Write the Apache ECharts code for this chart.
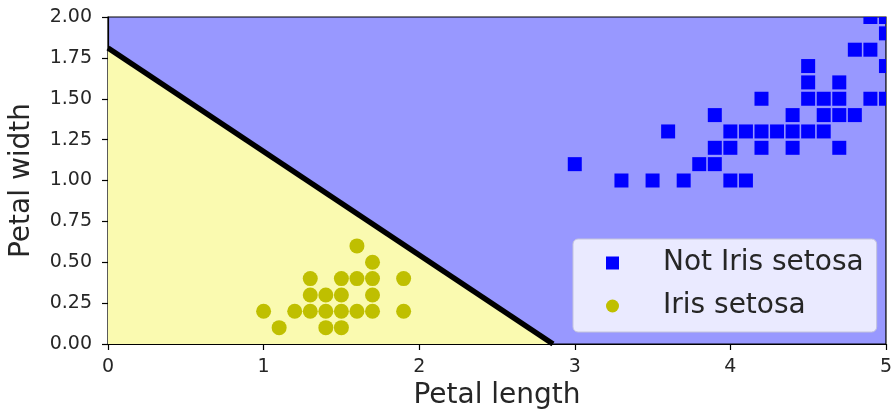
<!DOCTYPE html>
<html>
<head>
<meta charset="utf-8">
<script src="https://cdn.jsdelivr.net/npm/echarts@6/dist/echarts.min.js"></script>
<style>
  html, body { margin: 0; padding: 0; background: #fff; }
  #main { width: 895px; height: 415px; }
</style>
</head>
<body>
<div id="main"></div>
<script>
// petal length / petal width
var notSetosa = [
    [3.0, 1.1], [3.3, 1.0], [3.5, 1.0], [3.7, 1.0], [3.6, 1.3],
    [3.8, 1.1], [3.9, 1.1], [3.9, 1.2], [3.9, 1.4], [4.0, 1.0],
    [4.1, 1.0], [4.0, 1.2], [4.0, 1.3], [4.1, 1.3], [4.2, 1.3],
    [4.3, 1.3], [4.2, 1.2], [4.2, 1.5], [4.4, 1.3], [4.4, 1.2],
    [4.4, 1.4], [4.5, 1.3], [4.5, 1.5], [4.5, 1.6], [4.5, 1.7],
    [4.6, 1.3], [4.6, 1.4], [4.6, 1.5], [4.7, 1.4], [4.7, 1.5],
    [4.7, 1.6], [4.7, 1.2], [4.8, 1.4], [4.8, 1.8], [4.9, 1.8],
    [4.9, 1.5], [5.0, 1.5], [5.0, 1.7], [5.0, 1.9], [4.9, 2.0],
    [5.0, 2.0]
];
var setosa = [
    [1.0, 0.2], [1.1, 0.1], [1.2, 0.2], [1.3, 0.2], [1.3, 0.3],
    [1.3, 0.4], [1.4, 0.2], [1.4, 0.3], [1.4, 0.1], [1.5, 0.2],
    [1.5, 0.3], [1.5, 0.4], [1.5, 0.1], [1.6, 0.2], [1.6, 0.4],
    [1.6, 0.6], [1.7, 0.2], [1.7, 0.3], [1.7, 0.4], [1.7, 0.5],
    [1.9, 0.2], [1.9, 0.4]
];
// decision boundary end points
var boundary = [[0, 1.81], [2.86, 0]];

var FONT = 'DejaVu Sans';
var TXT = '#262626';

var chart = echarts.init(document.getElementById('main'));

var option = {
    backgroundColor: '#fff',
    animation: false,
    grid: {
        left: 108,
        right: 5,
        top: 17,
        bottom: 70,
        show: true,
        backgroundColor: '#9898ff',
        borderColor: '#000',
        borderWidth: 1.2
    },
    legend: {
        orient: 'vertical',
        left: 573,
        top: 239,
        padding: [9, 13, 11, 33],
        itemGap: 13,
        itemWidth: 13,
        itemHeight: 13,
        selectedMode: false,
        backgroundColor: '#eaeaff',
        borderColor: '#c4c4dc',
        borderWidth: 1,
        borderRadius: 5,
        textStyle: {
            fontFamily: FONT,
            fontSize: 28,
            color: TXT,
            lineHeight: 30,
            padding: [0, 0, 0, 39]
        },
        data: [
            { name: 'Not Iris setosa', icon: 'rect' },
            { name: 'Iris setosa', icon: 'circle' }
        ]
    },
    xAxis: {
        type: 'value',
        min: 0,
        max: 5,
        interval: 1,
        name: 'Petal length',
        nameLocation: 'middle',
        nameGap: 38,
        nameTextStyle: { fontFamily: FONT, fontSize: 28, color: TXT },
        axisLine: { show: true, onZero: false, lineStyle: { color: '#000', width: 1.2 } },
        axisTick: { show: true, length: 6, lineStyle: { color: '#000', width: 1.2 } },
        axisLabel: { fontFamily: FONT, fontSize: 19, color: TXT, margin: 14 },
        splitLine: { show: false }
    },
    yAxis: {
        type: 'value',
        min: 0,
        max: 2,
        interval: 0.25,
        name: 'Petal width',
        nameLocation: 'middle',
        nameGap: 72,
        nameTextStyle: { fontFamily: FONT, fontSize: 28, color: TXT },
        axisLine: { show: true, onZero: false, lineStyle: { color: '#000', width: 1.2 } },
        axisTick: { show: true, length: 6, lineStyle: { color: '#000', width: 1.2 } },
        axisLabel: {
            fontFamily: FONT, fontSize: 19, color: TXT, margin: 16,
            formatter: function (v) { return v.toFixed(2); }
        },
        splitLine: { show: false }
    },
    series: [
        {
            name: 'boundary',
            type: 'line',
            data: boundary,
            symbol: 'none',
            silent: true,
            lineStyle: { color: '#000', width: 5.5 },
            areaStyle: { color: '#fafab0', opacity: 1 },
            z: 1
        },
        {
            name: 'Not Iris setosa',
            type: 'custom',
            clip: true,
            data: notSetosa,
            itemStyle: { color: '#0000ff' },
            renderItem: function (params, api) {
                var p = api.coord([api.value(0), api.value(1)]);
                return {
                    type: 'rect',
                    shape: { x: p[0] - 7, y: p[1] - 7, width: 14, height: 14 },
                    style: { fill: '#0000ff' }
                };
            },
            z: 3
        },
        {
            name: 'Iris setosa',
            type: 'scatter',
            data: setosa,
            symbol: 'circle',
            symbolSize: 15,
            itemStyle: { color: '#bfbf00', opacity: 1 },
            z: 3
        }
    ]
};

chart.setOption(option);
window.addEventListener('resize', function () {
    chart.resize();
});
</script>
</body>
</html>
